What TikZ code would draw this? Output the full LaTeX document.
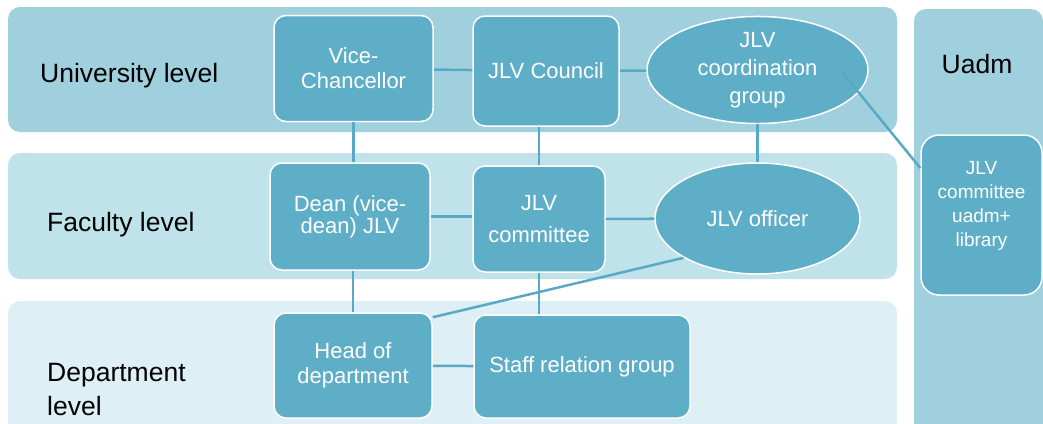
\documentclass[tikz,border=0pt]{standalone}
\usepackage{fontspec}
\setmainfont{Liberation Sans}
\usetikzlibrary{shapes.geometric}
\definecolor{bandtop}{HTML}{A0CFDE}
\definecolor{bandmid}{HTML}{C0E2EB}
\definecolor{bandlow}{HTML}{DEEFF5}
\definecolor{boxfill}{HTML}{5FAEC7}
\definecolor{linkcol}{HTML}{5AA9C4}
\tikzset{%
  band/.style={rounded corners=12pt},
  ubox/.style={draw=white,line width=1.5pt,fill=boxfill,rounded corners=12pt,text=white,align=center,inner sep=0pt,font=\fontsize{22}{25}\selectfont},
  uell/.style={ubox,shape=ellipse},
  lvl/.style={anchor=west,align=left,inner sep=0pt,font=\fontsize{26.5}{34}\selectfont},
  link/.style={draw=linkcol,line width=2.5pt}
}
\begin{document}
\begin{tikzpicture}[x=1pt,y=-1pt]
    \useasboundingbox (0,0) rectangle (1043,423);
    % level bands
    \fill[bandtop,band] (8,7) rectangle (897,132);
    \fill[bandmid,band] (8,153) rectangle (897,279);
    \fill[bandlow,band] (8,301) rectangle (897,450);
    \fill[bandtop,band] (914,9) rectangle (1043,450);
    \node[lvl] (univ) at (40,76) {University level};
    \node[lvl] (fac) at (47,225) {Faculty level};
    \node[lvl] (dept) at (47,390) {Department\\level};
    \node[lvl,anchor=center] (uadm) at (977,64) {Uadm};
    % university level
    \node[ubox,minimum width=159,minimum height=106] (vc) at (353.5,68.5) {Vice-\\Chancellor};
    \node[ubox,minimum width=146,minimum height=110] (council) at (546,71) {JLV Council};
    \node[uell,minimum width=221,minimum height=107,font=\fontsize{22}{28}\selectfont] (coord) at (757.5,70) {JLV\\coordination\\group};
    % faculty level
    \node[ubox,minimum width=160,minimum height=107,font=\fontsize{22}{22}\selectfont] (dean) at (350,216.5) {Dean (vice-\\dean) JLV};
    \node[ubox,minimum width=132,minimum height=106,font=\fontsize{22}{32}\selectfont] (committee) at (539,219) {JLV\\committee};
    \node[uell,minimum width=205,minimum height=111] (officer) at (757.5,218.5) {JLV officer};
    % department level
    \node[ubox,minimum width=158,minimum height=105] (head) at (353,365.5) {Head of\\department};
    \node[ubox,minimum width=216,minimum height=103] (staff) at (582,366.5) {Staff relation group};
    % uadm
    \node[ubox,minimum width=121,minimum height=160,rounded corners=18pt,font=\fontsize{19}{24}\selectfont] (uadmc) at (981.5,215) {JLV\\committee\\uadm+\\library\\[-10pt]\strut};
    \coordinate (cgin) at (842,72);
    % links
    \draw[link] (vc) -- (council);
    \draw[link] (council) -- (coord);
    \draw[link] (vc.south) -- (vc.south |- dean.north);
    \draw[link] (committee.north |- council.south) -- (committee.north);
    \draw[link] (coord) -- (officer);
    \draw[link] (cgin) -- ([yshift=47pt]uadmc.west);
    \draw[link] (dean.east) -- (dean.east -| committee.west);
    \draw[link] (committee) -- (officer);
    \draw[link] (head.north |- dean.south) -- (head.north);
    \draw[link] (committee.south) -- (committee.south |- staff.north);
    \draw[link] (officer.208) -- ([yshift=-5pt]head.north east);
    \draw[link] (head) -- (staff);
\end{tikzpicture}
\end{document}
